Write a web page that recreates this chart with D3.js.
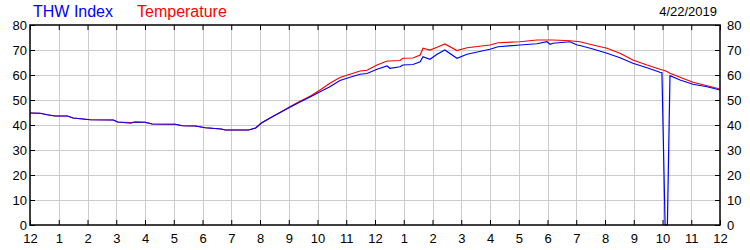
<!DOCTYPE html>
<html>
<head>
<meta charset="utf-8">
<script src="https://cdn.jsdelivr.net/npm/d3@7"></script>
<style>
  body { margin: 0; background: #fff; }
  svg text { font-family: "Liberation Sans", Arial, sans-serif; }
</style>
</head>
<body>
<div id="chart"></div>
<script>
// ************ Data ************
var hours = [0, 0.35, 0.6, 0.87, 1.3, 1.5, 2.1, 2.9, 3.05, 3.5,
             3.65, 4.0, 4.25, 5.05, 5.3, 5.75, 6.1, 6.65, 6.8, 7.6,
             7.85, 8.05, 8.35, 8.7, 9.04, 9.39, 9.74, 10.09, 10.43, 10.78,
             11.13, 11.48, 11.72, 12.07, 12.42, 12.52, 12.87, 12.97, 13.32, 13.57,
             13.67, 13.91, 14.16, 14.43, 14.85, 15.2, 16.0, 16.28, 17.04, 17.63,
             17.98, 18.09, 18.19, 18.78, 19.03, 19.13, 19.58, 20.07, 20.52, 20.97,
             21.46, 21.91, 21.98, 22.09, 22.17, 22.26, 22.61, 23.06, 23.55, 24];

var temperature = [44.8, 44.7, 44.1, 43.6, 43.6, 42.8, 42.1, 42.0, 41.2, 41.0,
                   41.2, 41.1, 40.4, 40.3, 39.7, 39.6, 38.9, 38.4, 38.0, 38.0,
                   38.8, 40.8, 42.8, 45.0, 47.3, 49.5, 51.5, 54.0, 56.7, 59.0,
                   60.3, 61.6, 61.9, 64.0, 65.6, 65.6, 65.8, 66.7, 66.8, 68.0,
                   70.7, 70.0, 71.1, 72.4, 69.8, 70.9, 72.0, 72.9, 73.3, 74.0,
                   74.0, 74.0, 74.0, 73.7, 73.4, 73.3, 72.0, 70.7, 68.7, 66.0,
                   64.0, 62.3, 62.1, 61.7, 61.3, 60.7, 59.1, 57.1, 55.7, 54.4];

var thwIndex = [44.8, 44.7, 44.1, 43.6, 43.6, 42.8, 42.1, 42.0, 41.2, 40.7,
                41.2, 41.1, 40.4, 40.3, 39.7, 39.6, 38.9, 38.4, 38.0, 38.0,
                38.8, 40.8, 42.8, 45.0, 47.1, 49.2, 51.2, 53.3, 55.3, 57.8,
                59.1, 60.3, 60.6, 62.3, 63.6, 62.7, 63.3, 64.0, 64.2, 65.3,
                67.3, 66.3, 68.3, 70.0, 66.7, 68.3, 70.3, 71.3, 72.0, 72.5,
                73.3, 72.3, 72.7, 73.3, 72.0, 71.8, 70.4, 68.7, 66.9, 64.7,
                62.9, 61.1, 60.9, 0, 0, 59.7, 58.0, 56.3, 55.3, 54.0];

var hourLabels = ['12', '1', '2', '3', '4', '5', '6', '7', '8', '9', '10', '11',
                  '12', '1', '2', '3', '4', '5', '6', '7', '8', '9', '10', '11', '12'];
var yTicks = [0, 10, 20, 30, 40, 50, 60, 70, 80];

// ************ Chart ************
var svg = d3.select('#chart').append('svg')
            .attr('width', 750)
            .attr('height', 250);

var x = d3.scaleLinear().domain([0, 24]).range([30, 720]);
var y = d3.scaleLinear().domain([0, 80]).range([225, 25]);

// grid
svg.append('g')
   .selectAll('line')
   .data(d3.range(1, 24))
   .enter().append('line')
   .attr('x1', d => Math.round(x(d)) + 0.5)
   .attr('x2', d => Math.round(x(d)) + 0.5)
   .attr('y1', y(80))
   .attr('y2', y(0))
   .style('stroke', '#cccccc');

svg.append('g')
   .selectAll('line')
   .data(yTicks.slice(1, -1))
   .enter().append('line')
   .attr('x1', x(0))
   .attr('x2', x(24))
   .attr('y1', d => Math.round(y(d)) + 0.5)
   .attr('y2', d => Math.round(y(d)) + 0.5)
   .style('stroke', '#cccccc');

// series
var line = d3.line()
             .x((d, i) => x(hours[i]))
             .y(d => y(d));

svg.append('path')
   .datum(temperature)
   .attr('d', line)
   .style('fill', 'none')
   .style('stroke', '#ff0000')
   .style('stroke-width', 1.2);

svg.append('path')
   .datum(thwIndex)
   .attr('d', line)
   .style('fill', 'none')
   .style('stroke', '#0000ff')
   .style('stroke-width', 1.2);

// axes
function styleAxis(g) {
  g.selectAll('.domain').remove();
  g.selectAll('line').style('stroke', '#000');
  g.selectAll('text').style('font-size', '13px').style('fill', '#000');
}

svg.append('g')
   .attr('transform', 'translate(0,225)')
   .call(d3.axisBottom(x).tickValues(d3.range(0, 25)).tickFormat(d => hourLabels[d])
           .tickSizeInner(-5).tickSizeOuter(0).tickPadding(9))
   .call(styleAxis);

svg.append('g')
   .attr('transform', 'translate(0,25)')
   .call(d3.axisTop(x).tickValues(d3.range(0, 25)).tickFormat('')
           .tickSizeInner(-5).tickSizeOuter(0))
   .call(styleAxis);

svg.append('g')
   .attr('transform', 'translate(30,0)')
   .call(d3.axisLeft(y).tickValues(yTicks).tickSizeInner(-5).tickSizeOuter(0).tickPadding(3))
   .call(styleAxis);

svg.append('g')
   .attr('transform', 'translate(720,0)')
   .call(d3.axisRight(y).tickValues(yTicks).tickSizeInner(-5).tickSizeOuter(0).tickPadding(7))
   .call(styleAxis);

// frame
svg.append('rect')
   .attr('x', x(0))
   .attr('y', y(80))
   .attr('width', x(24) - x(0))
   .attr('height', y(0) - y(80))
   .style('fill', 'none')
   .style('stroke', '#000')
   .style('stroke-width', 1.5);

// titles
svg.append('text')
   .attr('x', 33)
   .attr('y', 17)
   .style('font-size', '16px')
   .style('fill', '#0000ff')
   .text('THW Index');

svg.append('text')
   .attr('x', 137)
   .attr('y', 17)
   .style('font-size', '16px')
   .style('fill', '#ff0000')
   .text('Temperature');

svg.append('text')
   .attr('x', 717)
   .attr('y', 16)
   .attr('text-anchor', 'end')
   .style('font-size', '13px')
   .style('fill', '#000')
   .text('4/22/2019');
</script>
</body>
</html>
